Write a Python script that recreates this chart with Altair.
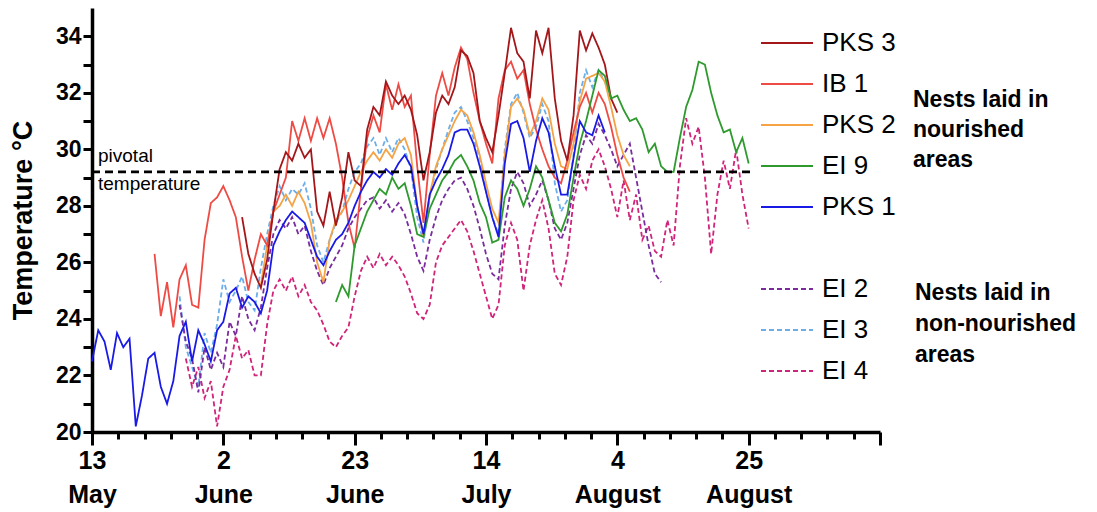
import altair as alt
import pandas as pd

# ---------------- data ----------------
SERIES = ["PKS 3", "IB 1", "PKS 2", "EI 9", "PKS 1", " ", "EI 2", "EI 3", "EI 4"]
COLORS = ["#A3161A", "#EE4B45", "#F5A345", "#2E9A2E", "#1A1AE6", "#FFFFFF",
          "#7A2C9E", "#6BAEEA", "#D0237A"]
DASHES = [[1, 0], [1, 0], [1, 0], [1, 0], [1, 0], [1, 0], [5, 3], [5, 3], [5, 3]]

# days counted from 13 May; each list starts at the given day, one value per day
PKS1_START = 0
PKS1 = [22.5, 23.6, 23.2, 22.2, 23.5, 23.0, 23.3, 20.2, 21.3, 22.6,
        22.8, 21.6, 21.0, 21.8, 23.4, 23.9, 22.5, 23.6, 23.1, 22.5,
        23.6, 23.9, 24.9, 25.1, 24.4, 24.8, 24.6, 24.2, 25.0, 26.6,
        27.1, 27.5, 27.8, 27.6, 27.4, 26.8, 26.2, 25.9, 26.4, 26.8,
        27.0, 27.4, 28.0, 28.5, 28.9, 29.2, 29.0, 29.3, 29.1, 29.5,
        29.8, 29.4, 28.0, 27.0, 28.4, 28.9, 29.3, 29.8, 30.6, 30.7,
        30.7, 30.2, 29.4, 28.5, 27.6, 26.9, 29.5, 30.9, 31.0, 30.4,
        29.2, 30.3, 31.1, 30.6, 29.4, 28.4, 28.4, 29.7, 31.0, 30.6,
        30.5, 31.2, 30.6]

IB1_START = 10
IB1 = [26.3, 24.1, 25.3, 23.7, 25.4, 25.9, 24.5, 24.4, 26.8, 28.1,
       28.3, 28.7, 28.2, 27.6, 26.2, 25.0, 26.1, 27.0, 26.6, 27.8,
       28.4, 29.0, 31.0, 30.3, 31.1, 30.3, 31.1, 30.4, 31.1, 30.2,
       29.0, 27.4, 26.5, 28.6, 30.4, 31.2, 30.6, 32.3, 31.4, 32.3,
       31.5, 31.9, 29.4, 27.4, 29.8, 31.9, 32.7, 31.9, 32.9, 33.6,
       33.2, 32.0, 31.0, 30.2, 29.5, 31.8, 32.8, 33.1, 32.5, 32.8,
       31.6, 30.7, 30.0, 29.4, 29.0, 28.8, 29.6, 30.6, 31.5, 32.0,
       31.3, 32.0, 31.6, 30.8, 29.8, 29.0, 28.5]

PKS3_START = 24
PKS3 = [27.6, 26.3, 25.6, 25.1, 26.1, 27.8, 29.3, 29.9, 29.6, 30.2,
        29.7, 30.0, 27.8, 27.3, 28.5, 27.3, 28.3, 29.9, 28.9, 28.7,
        30.7, 31.5, 31.2, 32.4, 31.9, 31.6, 31.9, 31.4, 30.5, 28.9,
        29.9, 31.3, 31.9, 31.6, 32.2, 33.5, 33.3, 32.7, 31.0, 30.4,
        29.9, 31.2, 32.7, 34.3, 33.4, 33.1, 31.8, 34.2, 33.4, 34.3,
        31.8, 30.3, 29.6, 31.2, 34.2, 33.5, 34.1, 33.6, 33.0, 31.8,
        31.3]

PKS2_START = 27
PKS2 = [25.2, 26.6, 27.8, 28.0, 28.4, 28.0, 28.5, 28.1, 27.4, 26.0,
        25.3, 26.8, 27.5, 27.8, 28.2, 28.7, 29.2, 29.6, 29.9, 29.6,
        30.0, 29.7, 30.2, 30.4, 29.8, 28.0, 26.9, 28.4, 29.4, 30.0,
        30.5, 31.0, 31.4, 31.2, 30.6, 29.8, 28.8, 27.9, 27.4, 29.8,
        31.5, 31.8, 31.4, 30.5, 31.0, 31.8, 31.4, 30.2, 29.4, 29.3,
        30.2, 31.7, 32.5, 32.6, 32.7, 32.4, 31.5, 30.5, 29.8, 29.4]

EI9_START = 39
EI9 = [24.6, 25.2, 24.8, 26.6, 27.2, 27.8, 28.2, 28.6,
       28.4, 29.0, 28.6, 28.8, 28.0, 27.0, 26.9, 27.9, 28.4, 28.9,
       29.2, 29.6, 29.8, 29.4, 28.9, 28.1, 27.6, 26.7, 26.8, 28.3,
       28.9, 28.6, 28.0, 28.6, 29.4, 29.0, 28.2, 27.4, 27.1, 27.7,
       29.0, 30.2, 31.0, 31.9, 32.8, 32.6, 31.8, 31.9, 31.4, 31.0,
       31.1, 30.7, 29.9, 30.2, 29.4, 29.2, 29.2, 30.4, 31.5, 32.1,
       33.1, 33.0, 32.0, 31.2, 30.6, 30.7, 29.9, 30.4, 29.5]

EI2_START = 14
EI2 = [24.5, 23.2, 22.6, 21.4, 23.0, 22.2, 22.8, 22.3, 23.9, 23.4,
       24.8, 24.0, 23.6, 24.4, 25.8, 27.0, 27.5, 27.2, 27.6, 27.0,
       27.3, 26.4, 25.7, 25.2, 25.8, 26.2, 26.6, 27.2, 27.6, 27.9,
       28.2, 28.3, 27.9, 28.2, 27.8, 28.1, 27.7, 27.0, 26.2, 25.7,
       26.8, 27.6, 28.2, 28.6, 28.9, 29.0, 28.6, 28.0, 27.2, 26.3,
       25.6, 25.4, 27.3, 28.6, 29.2, 28.8, 28.0, 28.4, 28.9, 28.2,
       27.2, 26.8, 27.4, 28.6, 29.8, 30.5, 30.2, 30.9, 30.5, 30.0,
       29.4, 29.8, 30.2, 29.0, 27.8, 26.6, 25.6, 25.3]

EI3_START = 14
EI3 = [24.8, 23.0, 22.3, 21.6, 23.5, 22.8, 23.8, 25.4, 24.6, 25.0,
       25.5, 24.6, 24.3, 25.8, 27.0, 28.0, 28.7, 28.2, 28.6, 28.4,
       28.8, 27.9, 26.6, 26.0, 26.8, 27.4, 27.8, 28.6, 29.2, 29.5,
       30.1, 30.4, 29.8, 30.4, 29.9, 30.4, 30.0, 29.3, 27.6, 26.7,
       28.3, 29.3, 30.0, 30.7, 31.3, 31.5, 31.0, 30.4, 29.7, 28.5,
       27.6, 27.0, 30.0, 31.6, 32.0, 31.3, 30.4, 30.8, 31.6, 31.0,
       28.8, 27.8, 28.2, 29.8, 32.0, 32.8, 32.2, 32.8, 32.4, 31.8]

EI4_START = 15
EI4 = [22.6, 21.6, 22.3, 21.2, 21.8, 20.2, 21.6, 22.2, 23.4, 22.6,
       22.9, 22.0, 22.0, 23.8, 25.0, 25.4, 25.0, 25.5, 24.8, 25.2,
       24.6, 24.3, 23.8, 23.2, 23.0, 23.4, 23.7, 24.8, 25.7, 26.2,
       25.8, 26.3, 25.9, 26.2, 25.9, 25.5, 24.9, 24.2, 24.0, 24.5,
       26.0, 26.6, 26.9, 27.2, 27.5, 27.1, 26.4, 25.6, 24.8, 24.0,
       24.5, 26.6, 27.4, 26.8, 25.0, 26.6, 27.5, 28.2, 27.2, 25.6,
       25.2, 26.2, 28.2, 29.1, 28.6, 29.6, 30.0, 29.4, 28.6, 27.6,
       28.9, 27.5, 28.4, 26.8, 27.3, 26.4, 26.2, 27.5, 26.6, 29.4,
       31.1, 30.2, 30.8, 29.0, 26.3, 28.4, 29.6, 28.6, 30.0, 28.4,
       27.2]

PIVOT_T = 29.2
PIVOT_START = 0
PIVOT_END = 105.5

X_MAJOR_DAYS = [0, 21, 42, 63, 84, 105]
X_MAJOR_DAY_LABELS = ["13", "2", "23", "14", "4", "25"]
X_MAJOR_MONTHS = ["May", "June", "June", "July", "August", "August"]
X_MINOR_STEP = 4.2
X_MAX = 126
Y_TICKS = list(range(20, 35))

NOTE_1 = ["Nests laid in", "nourished", "areas"]
NOTE_2 = ["Nests laid in", "non-nourished", "areas"]
PIVOT_NOTE = ["pivotal", "temperature"]

DRAW_ORDER = ["EI 3", "EI 4", "EI 2", "PKS 2", "IB 1", "PKS 3", "EI 9", "PKS 1"]

# ---------------- build table ----------------
series_data = {
    "PKS 1": (PKS1_START, PKS1), "IB 1": (IB1_START, IB1), "PKS 3": (PKS3_START, PKS3),
    "PKS 2": (PKS2_START, PKS2), "EI 9": (EI9_START, EI9), "EI 2": (EI2_START, EI2),
    "EI 3": (EI3_START, EI3), "EI 4": (EI4_START, EI4),
}
rows = []
for name, (start, vals) in series_data.items():
    for i, v in enumerate(vals):
        rows.append({"series": name, "day": start + i, "temp": v})
df = pd.DataFrame(rows)

FONT = "Liberation Sans"

x_minor = [round(i * X_MINOR_STEP, 4) for i in range(int(round(X_MAX / X_MINOR_STEP)) + 1)]
label_expr = ""
for d, a, b in zip(X_MAJOR_DAYS, X_MAJOR_DAY_LABELS, X_MAJOR_MONTHS):
    label_expr += f"abs(datum.value - {d}) < 0.01 ? ['{a}', '{b}'] : "
label_expr += "''"
major_test = "(datum.value % 21) < 0.01 || (datum.value % 21) > 20.99"

x_scale = alt.Scale(domain=[0, X_MAX], nice=False, zero=False)
y_scale = alt.Scale(domain=[20, 35], nice=False, zero=False)
color_scale = alt.Scale(domain=SERIES, range=COLORS)
dash_scale = alt.Scale(domain=SERIES, range=DASHES)

x_axis = alt.Axis(
    values=x_minor, labelExpr=label_expr, title=None, grid=False,
    tickSize={"condition": {"test": major_test, "value": 13}, "value": 7},
    tickWidth=3, tickColor="black", domainColor="black", domainWidth=3.5,
    labelFont=FONT, labelFontSize=25, labelFontWeight="bold", labelColor="black",
    labelLineHeight=34, labelPadding=3, labelOverlap=False, labelFlush=False,
    labelAngle=0, labelBaseline="top",
)
y_axis = alt.Axis(
    values=Y_TICKS, labelExpr="datum.value % 2 == 0 ? datum.label : ''",
    title="Temperature °C", grid=False, tickSize=9, tickWidth=3, tickColor="black",
    domainColor="black", domainWidth=3.5, labelFont=FONT, labelFontSize=23,
    labelFontWeight="bold", labelColor="black", labelPadding=2, labelOverlap=False,
    titleFont=FONT, titleFontSize=27, titleFontWeight="bold", titleColor="black",
    titlePadding=18,
)
legend = alt.Legend(
    orient="none", legendX=681, legendY=21, direction="vertical", title=None,
    symbolType="M-2,0H2", symbolSize=676, symbolStrokeWidth=2,
    labelFont=FONT, labelFontSize=26, labelColor="black", labelOffset=21,
    rowPadding=14, padding=0, labelLimit=0,
)

base = alt.Chart(df)
layers = []
for name in DRAW_ORDER:
    layers.append(
        base.transform_filter(alt.datum.series == name)
        .mark_line(strokeWidth=1.8)
        .encode(
            x=alt.X("day:Q", scale=x_scale, axis=x_axis),
            y=alt.Y("temp:Q", scale=y_scale, axis=y_axis),
            color=alt.Color("series:N", scale=color_scale, legend=legend),
            strokeDash=alt.StrokeDash("series:N", scale=dash_scale, legend=legend),
        )
    )

piv_df = pd.DataFrame({"x0": [PIVOT_START], "x1": [PIVOT_END], "t": [PIVOT_T]})
pivot = alt.Chart(piv_df).mark_rule(color="black", strokeWidth=2.8, strokeDash=[8, 5]).encode(
    x=alt.X("x0:Q", scale=x_scale, axis=x_axis),
    x2="x1:Q",
    y=alt.Y("t:Q", scale=y_scale, axis=y_axis),
)

one = pd.DataFrame({"k": [0]})
pivot_text = alt.Chart(one).mark_text(
    font=FONT, fontSize=19, align="left", baseline="alphabetic", lineHeight=28, color="black"
).encode(x=alt.value(6), y=alt.value(154), text=alt.value(PIVOT_NOTE))

note1 = alt.Chart(one).mark_text(
    font=FONT, fontSize=23, fontWeight="bold", align="left", baseline="alphabetic",
    lineHeight=30, color="black"
).encode(x=alt.value(821), y=alt.value(99), text=alt.value(NOTE_1))

note2 = alt.Chart(one).mark_text(
    font=FONT, fontSize=23, fontWeight="bold", align="left", baseline="alphabetic",
    lineHeight=31, color="black"
).encode(x=alt.value(823), y=alt.value(292), text=alt.value(NOTE_2))

chart = alt.layer(*layers, pivot, pivot_text, note1, note2).properties(
    width=788, height=424,
    autosize=alt.AutoSizeParams(type="none"),
    padding={"left": 92, "top": 8, "right": 217, "bottom": 80},
    background="white",
).configure_view(strokeWidth=0)

chart.save("out.html", embed_options={"renderer": "svg", "actions": False})
